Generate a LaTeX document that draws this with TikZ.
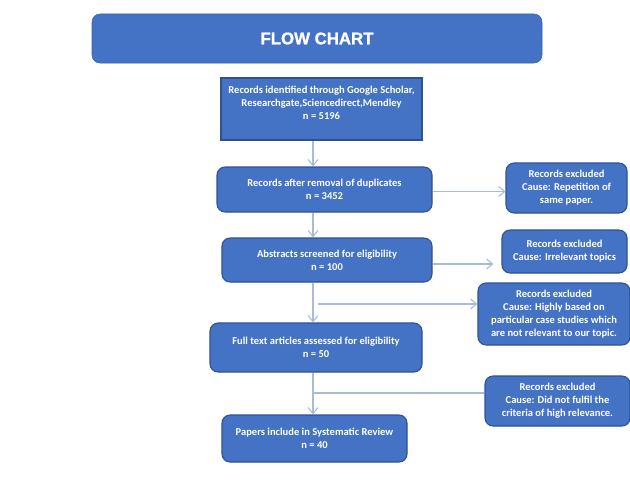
\documentclass[tikz,border=0pt]{standalone}
\usepackage{fontspec}
\setmainfont{Carlito}
\newfontfamily\headfont[FakeBold=1.2]{Liberation Sans}
\usetikzlibrary{arrows.meta,positioning,calc}
\definecolor{boxblue}{HTML}{4472C4}
\definecolor{boxedge}{HTML}{2F528F}
\definecolor{linkblue}{HTML}{A7BBDB}

\begin{document}
\begin{tikzpicture}[x=0.75pt,y=-0.75pt,
  stagebox/.style={rectangle, draw=boxedge, fill=boxblue, line width=0.8pt, rounded corners=6pt, align=center, text=white,
    font=\bfseries\fontsize{7.9}{9.8}\selectfont, inner sep=0pt},
  headbox/.style={rectangle, fill=boxblue, draw=boxblue!85!black, line width=0.4pt, rounded corners=6pt, text=white,
    font=\headfont\bfseries\fontsize{12.6}{14}\selectfont},
  arr/.style={-{Straight Barb[length=1.6mm, width=2.6mm]}, line width=0.8pt, linkblue},
  link/.style={line width=0.8pt, linkblue}
]
  \useasboundingbox (0,0) rectangle (630,485);
  % title bar
  \node[headbox, minimum width=337.5pt, minimum height=36.75pt] (title) at (317,38.5) {FLOW CHART};
  % main column
  \node[stagebox, rounded corners=0pt, minimum width=150.75pt, minimum height=46.5pt] (ident) at (321.5,109)
    {Records identified through Google Scholar,\\ Researchgate,Sciencedirect,Mendley\\ n = 5196\\ ~};
  \node[stagebox, minimum width=161.25pt, minimum height=33.75pt] (dedup) at (324.5,189.5)
    {Records after removal of duplicates\\ n = 3452};
  \node[stagebox, minimum width=157.5pt, minimum height=33pt] (abstr) at (327,260)
    {Abstracts screened for eligibility\\ n = 100};
  \node[stagebox, minimum width=159pt, minimum height=36.75pt] (fulltext) at (316,347.5)
    {Full text articles assessed for eligibility\\ n = 50};
  \node[stagebox, minimum width=138.75pt, minimum height=35.25pt] (review) at (314.5,438.5)
    {Papers include in Systematic Review\\ n = 40};
  % excluded records
  \node[stagebox, minimum width=90.75pt, minimum height=37.5pt] (excl1) at (566.5,188)
    {Records excluded\\ Cause: Repetition of\\ same paper.};
  \node[stagebox, minimum width=93.75pt, minimum height=32.25pt] (excl2) at (564.5,251.5)
    {Records excluded\\ Cause: Irrelevant topics};
  \node[stagebox, minimum width=114pt, minimum height=46.5pt] (excl3) at (554,314)
    {Records excluded\\ Cause: Highly based on\\ particular case studies which\\ are not relevant to our topic.};
  \node[stagebox, minimum width=108.75pt, minimum height=37.5pt] (excl4) at (557.5,401)
    {Records excluded\\ Cause: Did not fulfil the\\ criteria of high relevance.};

  \coordinate (spine) at (313,0);
  \coordinate (br3) at (313,304);
  \coordinate (br4) at (313,393);

  \draw[arr] (ident.south -| spine) -- (dedup.north -| spine);
  \draw[arr] (dedup.south -| spine) -- (abstr.north -| spine);
  \draw[arr] (abstr.south -| spine) -- (fulltext.north -| spine);
  \draw[arr] (fulltext.south -| spine) -- (review.north -| spine);

  \draw[arr] ([yshift=-1.5pt]dedup.east) -- ([yshift=-1.5pt]dedup.east -| excl1.west);
  \draw[arr, shorten >=6pt] ([yshift=-3pt]abstr.east) -- ([yshift=-3pt]abstr.east -| excl2.west);
  \draw[arr] ([xshift=3.5pt]br3) -- (br3 -| excl3.west);
  \draw[link] (br4 -| excl4.west) -- (br4);
\end{tikzpicture}
\end{document}
